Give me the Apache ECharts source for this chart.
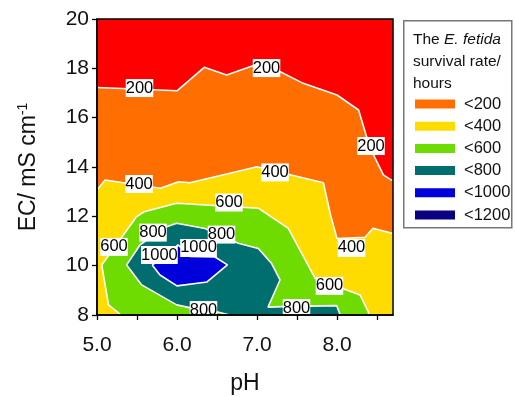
<!DOCTYPE html>
<html>
<head>
<meta charset="utf-8">
<script src="https://cdn.jsdelivr.net/npm/echarts@6/dist/echarts.min.js"></script>
<style>
  * { margin: 0; padding: 0; }
  #chart { width: 515px; height: 397px; }
</style>
</head>
<body>
<div id="chart"></div>
<script>
// plot extents (pH, EC)
var xExtent = [5, 8.7];
var yExtent = [8, 20];
var xTickValues = [5, 5.5, 6, 6.5, 7, 7.5, 8, 8.5];
var xLabelValues = [5, 6, 7, 8];

// contour lines, [pH, EC]
var c200 = [[5, 17.22], [6.0, 17.09], [6.34, 18.04], [6.62, 17.73], [6.975, 18.14], [7.29, 17.86],
  [7.56, 17.42], [8.0, 16.92], [8.27, 16.31], [8.37, 15.23], [8.47, 14.4], [8.58, 13.68], [8.68, 13.47], [8.7, 13.47]];
var c400 = [[5, 13.07], [5.1, 13.47], [5.79, 13.14], [6.02, 13.40], [6.16, 13.36], [7.0, 14.01],
  [7.83, 13.36], [7.92, 12.05], [8.0, 11.1], [8.35, 11.15], [8.45, 11.52], [8.7, 11.3]];
var c600 = [[5.30, 8], [5.144, 8.41], [5.059, 10.03], [5.496, 11.99], [5.60, 12.20], [5.996, 12.53],
  [7.016, 12.33], [7.391, 11.51], [7.725, 9.49], [8.2875, 8.81], [8.391, 8.13], [8.40, 8]];
var c800 = [[6.66, 8], [6.496, 8.13], [6.1875, 8.28], [5.996, 8.41], [5.559, 9.22], [5.371, 10.03],
  [5.5375, 10.84], [5.871, 11.58], [5.996, 11.72], [6.35, 11.51], [6.766, 10.91], [7.016, 10.70],
  [7.18, 10.10], [7.2875, 9.42], [7.1375, 8.32], [7.325, 8.34], [7.6375, 8.36], [7.996, 8.38], [8.04, 8]];
var c1000 = [[5.69, 10.03], [5.7875, 9.62], [6.0, 9.18], [6.375, 9.34], [6.63, 10.03], [6.475, 10.35],
  [6.1625, 10.37], [6.0125, 10.84], [5.85, 10.35], [5.69, 10.03]];

// contour labels [pH, EC, value]
var contourLabels = [
  [5.531, 17.20, 200], [7.119, 18.01, 200], [8.425, 14.85, 200],
  [5.525, 13.31, 400], [7.225, 13.78, 400], [8.181, 10.72, 400],
  [5.2125, 10.76, 600], [6.65, 12.56, 600], [7.906, 9.18, 600],
  [5.70, 11.34, 800], [6.556, 11.26, 800], [6.331, 8.20, 800], [7.494, 8.28, 800],
  [5.78, 10.43, 1000], [6.269, 10.72, 1000]
];

var bandNames = ['<200', '<400', '<600', '<800', '<1000', '<1200'];
var bandColors = ['#ff6e00', '#ffdc00', '#6edc00', '#006e6e', '#0000dc', '#0a0082'];

var fullRect = [[xExtent[0], yExtent[0]], [xExtent[0], yExtent[1]], [xExtent[1], yExtent[1]], [xExtent[1], yExtent[0]]];
var bottomClose = [[xExtent[1], yExtent[0]], [xExtent[0], yExtent[0]]];
var bandPolys = [
  c200.concat(bottomClose),
  c400.concat(bottomClose),
  c600,
  c800,
  c1000,
  []
];

var font = '"Liberation Sans", Arial, sans-serif';

function polySeries(name, poly, color, z) {
  return {
    type: 'custom',
    name: name,
    data: poly,
    z: z,
    clip: true,
    itemStyle: { color: color },
    renderItem: function (params, api) {
      if (params.dataIndex !== 0) return;
      var pts = poly.map(function (p) { return api.coord(p); });
      return { type: 'polygon', shape: { points: pts }, style: { fill: color } };
    }
  };
}

var series = [polySeries('bg', fullRect, '#ff0000', 1)];
bandNames.forEach(function (n, i) {
  series.push(polySeries(n, bandPolys[i], bandColors[i], 2 + i));
});
[c200, c400, c600, c800, c1000].forEach(function (c) {
  series.push({
    type: 'line',
    data: c,
    z: 9,
    showSymbol: false,
    silent: true,
    lineStyle: { color: '#fff', width: 1.6 }
  });
});
series.push({
  type: 'custom',
  data: contourLabels,
  z: 10,
  clip: true,
  renderItem: function (params, api) {
    var p = api.coord([api.value(0), api.value(1)]);
    return {
      type: 'text', x: p[0], y: p[1],
      style: {
        text: String(api.value(2)), fill: '#000', font: '16.5px ' + font,
        align: 'center', verticalAlign: 'middle',
        backgroundColor: '#fff', padding: [1, 0, 0, 0]
      }
    };
  }
});

var chart = echarts.init(document.getElementById('chart'), null, { renderer: 'canvas' });
chart.setOption({
  animation: false,
  textStyle: { fontFamily: font },
  grid: { left: 97, top: 19, width: 296, height: 296, show: true, z: 20, outerBoundsMode: 'none',
    backgroundColor: 'transparent', borderColor: '#000', borderWidth: 1.5 },
  xAxis: {
    type: 'value', min: xExtent[0], max: xExtent[1], z: 20,
    axisLine: { lineStyle: { color: '#000', width: 1.5 } },
    axisTick: { length: 5, customValues: xTickValues, lineStyle: { color: '#000', width: 1.3 } },
    axisLabel: { customValues: xLabelValues, formatter: function (v) { return v.toFixed(1); },
      fontSize: 21, color: '#111', margin: 20 },
    splitLine: { show: false },
    name: 'pH', nameLocation: 'middle', nameGap: 57,
    nameTextStyle: { fontSize: 23, color: '#111' }
  },
  yAxis: {
    type: 'value', min: yExtent[0], max: yExtent[1], interval: 2, z: 20,
    axisLine: { show: true, lineStyle: { color: '#000', width: 1.5 } },
    axisTick: { show: true, length: 5, lineStyle: { color: '#000', width: 1.3 } },
    axisLabel: { fontSize: 21, color: '#111', margin: 8 },
    splitLine: { show: false },
    name: 'EC/ mS cm{sup|-1}', nameLocation: 'middle', nameGap: 55,
    nameTextStyle: { fontSize: 23, color: '#111',
      rich: { sup: { fontSize: 14, verticalAlign: 'top', padding: [0, 0, 12, 0], color: '#111' } } }
  },
  legend: {
    data: bandNames, orient: 'vertical', left: 415, top: 93, padding: 0,
    itemWidth: 40, itemHeight: 9, itemGap: 0.2, icon: 'rect', selectedMode: false,
    textStyle: { fontSize: 16.5, color: '#111', lineHeight: 22, padding: [0, 0, 0, 4] }
  },
  graphic: [
    { type: 'rect', left: 403, top: 20, shape: { width: 108, height: 207 },
      style: { fill: 'transparent', stroke: '#777', lineWidth: 1.5 } },
    { type: 'text', left: 413, top: 29,
      style: { text: 'The {i|E. fetida}\nsurvival rate/\nhours', font: '15.5px ' + font, fill: '#111',
        lineHeight: 22, rich: { i: { fontStyle: 'italic', fontSize: 15.5, fontFamily: font, lineHeight: 22 } } } }
  ],
  series: series
});
</script>
</body>
</html>
